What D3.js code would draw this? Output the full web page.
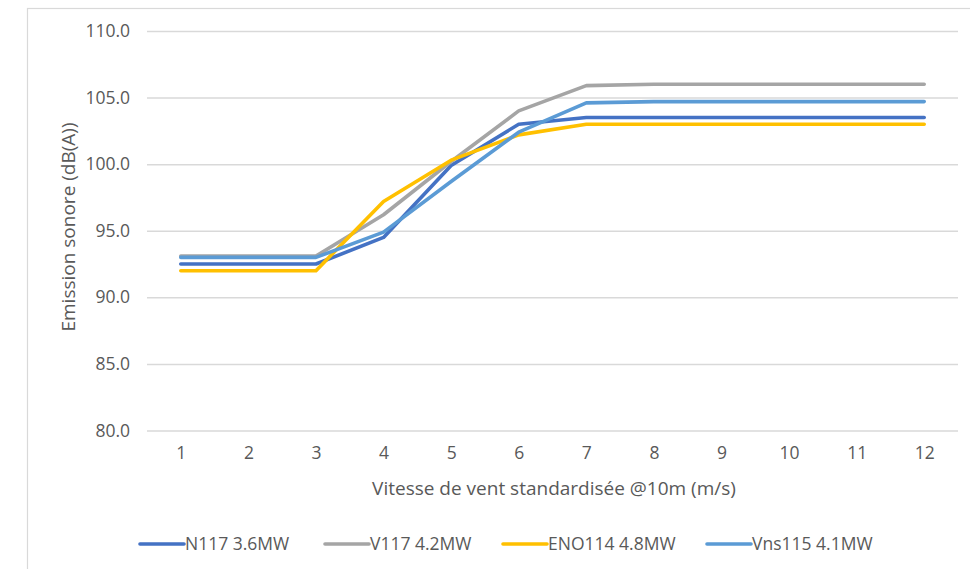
<!DOCTYPE html>
<html>
<head>
<meta charset="utf-8">
<script src="https://cdn.jsdelivr.net/npm/d3@7"></script>
<style>
  html, body { margin: 0; padding: 0; background: #fff; }
  svg { display: block; }
  text { font-family: "Open Sans", "Noto Sans", sans-serif; fill: #595959; }
</style>
</head>
<body>
<svg id="chart" width="970" height="569"></svg>
<script>
// Wind speed categories (m/s at 10 m)
const windSpeeds = [1, 2, 3, 4, 5, 6, 7, 8, 9, 10, 11, 12];

// Sound power level per turbine model, dB(A)
const n117   = [92.5, 92.5, 92.5, 94.5,  99.9, 103.0, 103.5, 103.5, 103.5, 103.5, 103.5, 103.5];
const v117   = [93.1, 93.1, 93.1, 96.2, 100.2, 104.0, 105.9, 106.0, 106.0, 106.0, 106.0, 106.0];
const eno114 = [92.0, 92.0, 92.0, 97.2, 100.3, 102.2, 103.0, 103.0, 103.0, 103.0, 103.0, 103.0];
const vns115 = [93.0, 93.0, 93.0, 94.9,  98.7, 102.4, 104.6, 104.7, 104.7, 104.7, 104.7, 104.7];

const seriesNames = ["N117 3.6MW", "V117 4.2MW", "ENO114 4.8MW", "Vns115 4.1MW"];
const seriesColors = ["#4472C4", "#A5A5A5", "#FFC000", "#5B9BD5"];
const yTicks = [80, 85, 90, 95, 100, 105, 110];

const series = [n117, v117, eno114, vns115].map((values, i) => ({
  name: seriesNames[i],
  color: seriesColors[i],
  values: values.map((v, j) => ({ x: windSpeeds[j], y: v }))
}));

const svg = d3.select("#chart");

// Chart area frame
svg.append("rect")
  .attr("x", 27.5).attr("y", 8.5)
  .attr("width", 960).attr("height", 580)
  .attr("fill", "#fff")
  .attr("stroke", "#D9D9D9").attr("stroke-width", 1.2);

const plot = { left: 147, right: 958, top: 31, bottom: 430.5 };

const x = d3.scalePoint()
  .domain(windSpeeds)
  .range([plot.left, plot.right])
  .padding(0.5);

const y = d3.scaleLinear()
  .domain([80, 110])
  .range([plot.bottom, plot.top]);

// Horizontal gridlines + y tick labels
const yAxis = d3.axisLeft(y)
  .tickValues(yTicks)
  .tickFormat(d3.format(".1f"))
  .tickSize(-(plot.right - plot.left))
  .tickPadding(17);

const gy = svg.append("g")
  .attr("transform", `translate(${plot.left},0)`)
  .call(yAxis);
gy.select(".domain").remove();
gy.selectAll(".tick line").attr("stroke", "#D9D9D9").attr("stroke-width", 1.5);
gy.selectAll(".tick text")
  .attr("fill", "#595959")
  .style("font-size", "17.5px");

// x tick labels (no axis line)
const xAxis = d3.axisBottom(x).tickSize(0).tickPadding(16);
const gx = svg.append("g")
  .attr("transform", `translate(0,${plot.bottom})`)
  .call(xAxis);
gx.select(".domain").remove();
gx.selectAll(".tick text")
  .attr("fill", "#595959")
  .style("font-size", "17.5px");

// Axis titles
svg.append("text")
  .attr("x", 554)
  .attr("y", 495)
  .attr("text-anchor", "middle")
  .style("font-size", "19px")
  .text("Vitesse de vent standardisée @10m (m/s)");

svg.append("text")
  .attr("transform", "translate(75,227) rotate(-90)")
  .attr("text-anchor", "middle")
  .style("font-size", "19px")
  .text("Emission sonore (dB(A))");

// Series lines
const line = d3.line()
  .x(d => x(d.x))
  .y(d => y(d.y));

svg.append("g")
  .selectAll("path")
  .data(series)
  .join("path")
  .attr("d", d => line(d.values))
  .attr("fill", "none")
  .attr("stroke", d => d.color)
  .attr("stroke-width", 3.6)
  .attr("stroke-linejoin", "round")
  .attr("stroke-linecap", "round");

// Legend
const legendX = [140, 325, 503, 707];
const legend = svg.append("g")
  .selectAll("g")
  .data(series)
  .join("g")
  .attr("transform", (d, i) => `translate(${legendX[i]},544)`);

legend.append("line")
  .attr("x1", 0).attr("x2", 44)
  .attr("y1", 0).attr("y2", 0)
  .attr("stroke", d => d.color)
  .attr("stroke-width", 3.6)
  .attr("stroke-linecap", "round");

legend.append("text")
  .attr("x", 45)
  .attr("y", 6)
  .style("font-size", "17.5px")
  .text(d => d.name);
</script>
</body>
</html>
